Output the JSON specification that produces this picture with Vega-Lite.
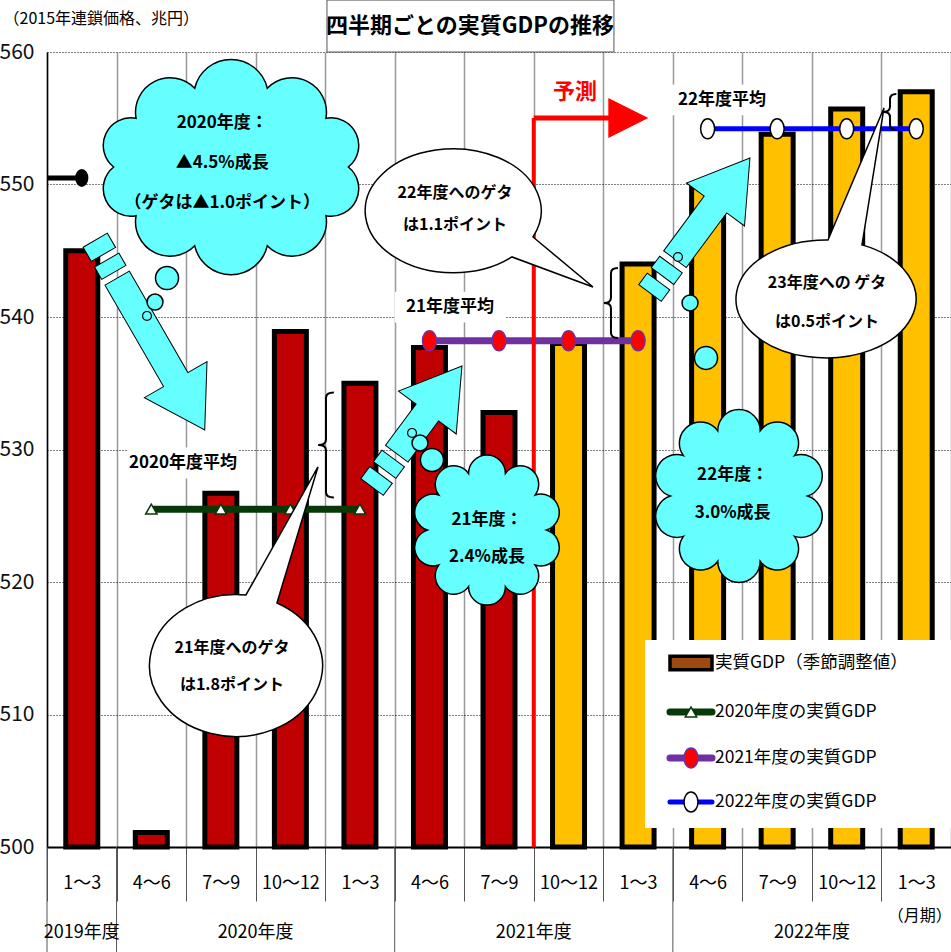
{
  "$schema": "https://vega.github.io/schema/vega-lite/v6.json",
  "width": 904,
  "height": 795,
  "autosize": {"type": "none"},
  "padding": {"left": 47, "top": 52, "right": 0, "bottom": 105},
  "background": "white",
  "config": {
    "view": {"stroke": null},
    "font": "Liberation Sans Narrow, Noto Sans CJK JP, sans-serif",
    "text": {"font": "Liberation Sans Narrow, Noto Sans CJK JP, sans-serif", "color": "#000"}
  },
  "datasets": {
    "gdp": [
      {"q": "FY19|1～3", "v": 545.0, "k": "実績"},
      {"q": "FY20|4～6", "v": 501.1, "k": "実績"},
      {"q": "FY20|7～9", "v": 526.7, "k": "実績"},
      {"q": "FY20|10～12", "v": 538.9, "k": "実績"},
      {"q": "FY20|1～3", "v": 535.0, "k": "実績"},
      {"q": "FY21|4～6", "v": 537.7, "k": "実績"},
      {"q": "FY21|7～9", "v": 532.8, "k": "実績"},
      {"q": "FY21|10～12", "v": 538.0, "k": "予測"},
      {"q": "FY21|1～3", "v": 544.0, "k": "予測"},
      {"q": "FY22|4～6", "v": 550.0, "k": "予測"},
      {"q": "FY22|7～9", "v": 553.8, "k": "予測"},
      {"q": "FY22|10～12", "v": 555.7, "k": "予測"},
      {"q": "FY22|1～3", "v": 557.0, "k": "予測"}
    ],
    "avg": [
      {"s": "FY19", "q": "FY19|1～3", "v": 550.5},
      {"s": "FY20", "q": "FY20|4～6", "v": 525.5},
      {"s": "FY20", "q": "FY20|7～9", "v": 525.5},
      {"s": "FY20", "q": "FY20|10～12", "v": 525.5},
      {"s": "FY20", "q": "FY20|1～3", "v": 525.5},
      {"s": "FY21", "q": "FY21|4～6", "v": 538.2},
      {"s": "FY21", "q": "FY21|7～9", "v": 538.2},
      {"s": "FY21", "q": "FY21|10～12", "v": 538.2},
      {"s": "FY21", "q": "FY21|1～3", "v": 538.2},
      {"s": "FY22", "q": "FY22|4～6", "v": 554.2},
      {"s": "FY22", "q": "FY22|7～9", "v": 554.2},
      {"s": "FY22", "q": "FY22|10～12", "v": 554.2},
      {"s": "FY22", "q": "FY22|1～3", "v": 554.2}
    ],
    "notes": [
      {"g": "cloud", "x": 2.52, "y": 554.64, "t": "2020年度："},
      {"g": "cloud", "x": 2.52, "y": 551.62, "t": "▲4.5%成長"},
      {"g": "cloud", "x": 2.52, "y": 548.6, "t": "（ゲタは▲1.0ポイント）"},
      {"g": "cloud", "x": 6.327, "y": 524.68, "t": "21年度："},
      {"g": "cloud", "x": 6.327, "y": 521.89, "t": "2.4%成長"},
      {"g": "cloud", "x": 9.86, "y": 528.08, "t": "22年度："},
      {"g": "cloud", "x": 9.86, "y": 525.21, "t": "3.0%成長"},
      {"g": "bubble", "x": 5.867, "y": 549.36, "t": "22年度へのゲタ"},
      {"g": "bubble", "x": 5.867, "y": 546.94, "t": "は1.1ポイント"},
      {"g": "bubble", "x": 2.66, "y": 515.02, "t": "21年度へのゲタ"},
      {"g": "bubble", "x": 2.66, "y": 512.23, "t": "は1.8ポイント"},
      {"g": "bubble", "x": 11.217, "y": 542.57, "t": "23年度への ゲタ"},
      {"g": "bubble", "x": 11.217, "y": 539.62, "t": "は0.5ポイント"},
      {"g": "avg", "x": 1.956, "y": 528.98, "t": "2020年度平均"},
      {"g": "avg", "x": 5.795, "y": 540.75, "t": "21年度平均"},
      {"g": "avg", "x": 9.707, "y": 556.38, "t": "22年度平均"},
      {"g": "yosoku", "x": 7.593, "y": 556.98, "t": "予測"},
      {"g": "unit", "x": 12.55, "y": 494.79, "t": "（月期）"},
      {"g": "title", "x": 6.083, "y": 561.96, "t": "四半期ごとの実質GDPの推移"}
    ],
    "shapes": [
      {"id": "c1", "x": 2.646, "y": 551.32},
      {"id": "c2", "x": 6.327, "y": 523.92},
      {"id": "c3", "x": 9.951, "y": 526.49},
      {"id": "a1", "x": 1.481, "y": 538.64},
      {"id": "a2", "x": 5.321, "y": 531.74},
      {"id": "a3", "x": 9.39, "y": 546.91},
      {"id": "bA", "x": 5.867, "y": 548.23},
      {"id": "bB", "x": 2.66, "y": 513.74},
      {"id": "bC", "x": 11.202, "y": 541.36},
      {"id": "k1", "x": 4.012, "y": 530.34},
      {"id": "k2", "x": 8.11, "y": 541.06},
      {"id": "k3", "x": 12.123, "y": 555.47}
    ],
    "puffs": [
      {"sz": "L", "x": 1.726, "y": 542.94},
      {"sz": "M", "x": 1.553, "y": 541.13},
      {"sz": "S", "x": 1.438, "y": 540.08},
      {"sz": "L", "x": 5.536, "y": 529.21},
      {"sz": "M", "x": 5.364, "y": 530.49},
      {"sz": "S", "x": 5.249, "y": 531.25},
      {"sz": "L", "x": 9.477, "y": 536.91},
      {"sz": "M", "x": 9.247, "y": 541.06},
      {"sz": "S", "x": 9.074, "y": 544.53}
    ],
    "boxes": [
      {"id": "title", "x": 4.026, "x2": 8.153, "y": 560, "y2": 563.92},
      {"id": "legend", "x": 8.6, "x2": 13, "y": 515.62, "y2": 501.43}
    ],
    "forecast": [
      {"x": 7, "x2": 8.36, "y": 500, "y2": 555.02}
    ],
    "legend": [
      {"s": "gdp", "t": "実質GDP（季節調整値）", "ly": 513.89},
      {"s": "fy20", "t": "2020年度の実質GDP", "ly": 510.19},
      {"s": "fy21", "t": "2021年度の実質GDP", "ly": 506.72},
      {"s": "fy22", "t": "2022年度の実質GDP", "ly": 503.4}
    ],
    "fy": [
      {"label": "2019年度", "start": 0, "mid": 0.5},
      {"label": "2020年度", "start": 1, "mid": 3},
      {"label": "2021年度", "start": 5, "mid": 7},
      {"label": "2022年度", "start": 9, "mid": 11}
    ]
  },
  "resolve": {"scale": {"x": "independent", "y": "independent"}},
  "layer": [
    {
      "data": {"name": "gdp"},
      "mark": {"type": "bar", "width": {"band": 0.46}, "stroke": "#000", "strokeWidth": 5, "strokeJoin": "miter"},
      "encoding": {
        "x": {
          "field": "q", "type": "nominal", "sort": null,
          "scale": {"domain": ["FY19|1～3", "FY20|4～6", "FY20|7～9", "FY20|10～12", "FY20|1～3", "FY21|4～6", "FY21|7～9", "FY21|10～12", "FY21|1～3", "FY22|4～6", "FY22|7～9", "FY22|10～12", "FY22|1～3"], "paddingInner": 0, "paddingOuter": 0},
          "axis": {"title": null, "labelExpr": "split(datum.value,'|')[1]", "labelAngle": 0, "labelFontSize": 18, "labelFont": "Liberation Sans Narrow, Noto Sans CJK JP, sans-serif", "labelColor": "#000", "labelBaseline": "middle", "labelPadding": -18, "tickBand": "extent", "ticks": true, "tickSize": 54, "tickColor": "#555", "tickWidth": 1, "grid": true, "gridColor": "#999", "gridWidth": 1.5, "domainColor": "#000", "domainWidth": 2}
        },
        "y": {
          "field": "v", "type": "quantitative",
          "scale": {"domain": [500, 560], "nice": false, "zero": false},
          "axis": {"values": [500, 510, 520, 530, 540, 550, 560], "title": "（2015年連鎖価格、兆円）", "titleAngle": 0, "titleAlign": "left", "titleBaseline": "middle", "titleX": -44, "titleY": -34, "titleFontSize": 16, "titleFontWeight": "normal", "titleFont": "Liberation Sans Narrow, Noto Sans CJK JP, sans-serif", "titleColor": "#000", "labelFontSize": 21, "labelFont": "Liberation Sans Narrow, Noto Sans CJK JP, sans-serif", "labelColor": "#111", "labelPadding": 13, "ticks": false, "domainColor": "#000", "domainWidth": 1.5, "grid": true, "gridColor": "#000", "gridDash": [1, 2], "gridWidth": 1}
        },
        "y2": {"datum": 500},
        "fill": {"field": "k", "type": "nominal", "scale": {"domain": ["実績", "予測"], "range": ["#C00000", "#FFC000"]}, "legend": null}
      }
    },
    {
      "data": {"name": "avg"},
      "transform": [{"filter": "datum.s == 'FY19'"}],
      "mark": {"type": "rule", "color": "#000", "strokeWidth": 5},
      "encoding": {
        "x": {"field": "q", "type": "nominal", "bandPosition": 0, "scale": {"domain": ["FY19|1～3", "FY20|4～6", "FY20|7～9", "FY20|10～12", "FY20|1～3", "FY21|4～6", "FY21|7～9", "FY21|10～12", "FY21|1～3", "FY22|4～6", "FY22|7～9", "FY22|10～12", "FY22|1～3"], "paddingInner": 0, "paddingOuter": 0}, "axis": null},
        "x2": {"field": "q", "bandPosition": 0.5},
        "y": {"field": "v", "type": "quantitative", "scale": {"domain": [500, 560], "nice": false, "zero": false}, "axis": null}
      }
    },
    {
      "data": {"name": "avg"},
      "transform": [{"filter": "datum.s == 'FY19'"}],
      "mark": {"type": "point", "shape": "M0,-1A0.7,1 0 1,1 0,1A0.7,1 0 1,1 0,-1Z", "filled": true, "fill": "#000", "stroke": "#000", "size": 256, "opacity": 1},
      "encoding": {
        "x": {"field": "q", "type": "nominal", "scale": {"domain": ["FY19|1～3", "FY20|4～6", "FY20|7～9", "FY20|10～12", "FY20|1～3", "FY21|4～6", "FY21|7～9", "FY21|10～12", "FY21|1～3", "FY22|4～6", "FY22|7～9", "FY22|10～12", "FY22|1～3"], "paddingInner": 0, "paddingOuter": 0}, "axis": null},
        "y": {"field": "v", "type": "quantitative", "scale": {"domain": [500, 560], "nice": false, "zero": false}, "axis": null}
      }
    },
    {
      "data": {"name": "avg"},
      "transform": [{"filter": "datum.s == 'FY20'"}],
      "mark": {"type": "line", "color": "#073807", "strokeWidth": 7},
      "encoding": {
        "x": {"field": "q", "type": "nominal", "scale": {"domain": ["FY19|1～3", "FY20|4～6", "FY20|7～9", "FY20|10～12", "FY20|1～3", "FY21|4～6", "FY21|7～9", "FY21|10～12", "FY21|1～3", "FY22|4～6", "FY22|7～9", "FY22|10～12", "FY22|1～3"], "paddingInner": 0, "paddingOuter": 0}, "axis": null},
        "y": {"field": "v", "type": "quantitative", "scale": {"domain": [500, 560], "nice": false, "zero": false}, "axis": null}
      }
    },
    {
      "data": {"name": "avg"},
      "transform": [{"filter": "datum.s == 'FY20'"}],
      "mark": {"type": "point", "shape": "triangle-up", "filled": true, "fill": "#fff", "stroke": "#073807", "strokeWidth": 1.5, "size": 130, "opacity": 1},
      "encoding": {
        "x": {"field": "q", "type": "nominal", "scale": {"domain": ["FY19|1～3", "FY20|4～6", "FY20|7～9", "FY20|10～12", "FY20|1～3", "FY21|4～6", "FY21|7～9", "FY21|10～12", "FY21|1～3", "FY22|4～6", "FY22|7～9", "FY22|10～12", "FY22|1～3"], "paddingInner": 0, "paddingOuter": 0}, "axis": null},
        "y": {"field": "v", "type": "quantitative", "scale": {"domain": [500, 560], "nice": false, "zero": false}, "axis": null}
      }
    },
    {
      "data": {"name": "avg"},
      "transform": [{"filter": "datum.s == 'FY21'"}],
      "mark": {"type": "line", "color": "#7030A0", "strokeWidth": 7},
      "encoding": {
        "x": {"field": "q", "type": "nominal", "scale": {"domain": ["FY19|1～3", "FY20|4～6", "FY20|7～9", "FY20|10～12", "FY20|1～3", "FY21|4～6", "FY21|7～9", "FY21|10～12", "FY21|1～3", "FY22|4～6", "FY22|7～9", "FY22|10～12", "FY22|1～3"], "paddingInner": 0, "paddingOuter": 0}, "axis": null},
        "y": {"field": "v", "type": "quantitative", "scale": {"domain": [500, 560], "nice": false, "zero": false}, "axis": null}
      }
    },
    {
      "data": {"name": "avg"},
      "transform": [{"filter": "datum.s == 'FY21'"}],
      "mark": {"type": "point", "shape": "M0,-1A0.7,1 0 1,1 0,1A0.7,1 0 1,1 0,-1Z", "filled": true, "fill": "#FF0000", "stroke": "#7030A0", "strokeWidth": 1.5, "size": 400, "opacity": 1},
      "encoding": {
        "x": {"field": "q", "type": "nominal", "scale": {"domain": ["FY19|1～3", "FY20|4～6", "FY20|7～9", "FY20|10～12", "FY20|1～3", "FY21|4～6", "FY21|7～9", "FY21|10～12", "FY21|1～3", "FY22|4～6", "FY22|7～9", "FY22|10～12", "FY22|1～3"], "paddingInner": 0, "paddingOuter": 0}, "axis": null},
        "y": {"field": "v", "type": "quantitative", "scale": {"domain": [500, 560], "nice": false, "zero": false}, "axis": null}
      }
    },
    {
      "data": {"name": "avg"},
      "transform": [{"filter": "datum.s == 'FY22'"}],
      "mark": {"type": "line", "color": "#0000FF", "strokeWidth": 5},
      "encoding": {
        "x": {"field": "q", "type": "nominal", "scale": {"domain": ["FY19|1～3", "FY20|4～6", "FY20|7～9", "FY20|10～12", "FY20|1～3", "FY21|4～6", "FY21|7～9", "FY21|10～12", "FY21|1～3", "FY22|4～6", "FY22|7～9", "FY22|10～12", "FY22|1～3"], "paddingInner": 0, "paddingOuter": 0}, "axis": null},
        "y": {"field": "v", "type": "quantitative", "scale": {"domain": [500, 560], "nice": false, "zero": false}, "axis": null}
      }
    },
    {
      "data": {"name": "avg"},
      "transform": [{"filter": "datum.s == 'FY22'"}],
      "mark": {"type": "point", "shape": "M0,-1A0.7,1 0 1,1 0,1A0.7,1 0 1,1 0,-1Z", "filled": true, "fill": "#fff", "stroke": "#000", "strokeWidth": 1.5, "size": 400, "opacity": 1},
      "encoding": {
        "x": {"field": "q", "type": "nominal", "scale": {"domain": ["FY19|1～3", "FY20|4～6", "FY20|7～9", "FY20|10～12", "FY20|1～3", "FY21|4～6", "FY21|7～9", "FY21|10～12", "FY21|1～3", "FY22|4～6", "FY22|7～9", "FY22|10～12", "FY22|1～3"], "paddingInner": 0, "paddingOuter": 0}, "axis": null},
        "y": {"field": "v", "type": "quantitative", "scale": {"domain": [500, 560], "nice": false, "zero": false}, "axis": null}
      }
    },
    {
      "data": {"name": "forecast"},
      "mark": {"type": "rule", "color": "#FF0000", "strokeWidth": 4},
      "encoding": {
        "x": {"field": "x", "type": "quantitative", "scale": {"domain": [0, 13], "nice": false, "zero": false}, "axis": null},
        "y": {"field": "y", "type": "quantitative", "scale": {"domain": [500, 560], "nice": false, "zero": false}, "axis": null},
        "y2": {"field": "y2"}
      }
    },
    {
      "data": {"name": "forecast"},
      "mark": {"type": "rule", "color": "#FF0000", "strokeWidth": 5},
      "encoding": {
        "x": {"field": "x", "type": "quantitative", "scale": {"domain": [0, 13], "nice": false, "zero": false}, "axis": null},
        "x2": {"field": "x2"},
        "y": {"field": "y2", "type": "quantitative", "scale": {"domain": [500, 560], "nice": false, "zero": false}, "axis": null}
      }
    },
    {
      "data": {"name": "forecast"},
      "mark": {"type": "point", "shape": "M-1,-1L1,0L-1,1Z", "filled": true, "fill": "#FF0000", "strokeWidth": 0, "size": 1600, "opacity": 1},
      "encoding": {
        "x": {"field": "x2", "type": "quantitative", "scale": {"domain": [0, 13], "nice": false, "zero": false}, "axis": null},
        "y": {"field": "y2", "type": "quantitative", "scale": {"domain": [500, 560], "nice": false, "zero": false}, "axis": null}
      }
    },
    {
      "data": {"name": "shapes"},
      "transform": [{"filter": "datum.id == 'a1'"}],
      "mark": {"type": "point", "shape": "M-0.6,-0.128L0.47,-0.128L0.47,-0.33L1,0L0.47,0.33L0.47,0.128L-0.6,0.128Z M-0.79,-0.128L-0.66,-0.128L-0.66,0.128L-0.79,0.128Z M-1,-0.128L-0.85,-0.128L-0.85,0.128L-1,0.128Z", "angle": 60, "filled": true, "fill": "#66FFFF", "stroke": "#000", "strokeWidth": 1, "size": 47961, "opacity": 1},
      "encoding": {
        "x": {"field": "x", "type": "quantitative", "scale": {"domain": [0, 13], "nice": false, "zero": false}, "axis": null},
        "y": {"field": "y", "type": "quantitative", "scale": {"domain": [500, 560], "nice": false, "zero": false}, "axis": null}
      }
    },
    {
      "data": {"name": "shapes"},
      "transform": [{"filter": "datum.id == 'a2'"}],
      "mark": {"type": "point", "shape": "M-0.45,-0.186L0.23,-0.186L0.23,-0.477L1,0L0.23,0.477L0.23,0.186L-0.45,0.186Z M-0.72,-0.186L-0.53,-0.186L-0.53,0.186L-0.72,0.186Z M-1,-0.186L-0.8,-0.186L-0.8,0.186L-1,0.186Z", "angle": 306.6, "filled": true, "fill": "#66FFFF", "stroke": "#000", "strokeWidth": 1, "size": 22741, "opacity": 1},
      "encoding": {
        "x": {"field": "x", "type": "quantitative", "scale": {"domain": [0, 13], "nice": false, "zero": false}, "axis": null},
        "y": {"field": "y", "type": "quantitative", "scale": {"domain": [500, 560], "nice": false, "zero": false}, "axis": null}
      }
    },
    {
      "data": {"name": "shapes"},
      "transform": [{"filter": "datum.id == 'a3'"}],
      "mark": {"type": "point", "shape": "M-0.5,-0.167L0.31,-0.167L0.31,-0.43L1,0L0.31,0.43L0.31,0.167L-0.5,0.167Z M-0.75,-0.167L-0.58,-0.167L-0.58,0.167L-0.75,0.167Z M-1,-0.167L-0.83,-0.167L-0.83,0.167L-1,0.167Z", "angle": 306.5, "filled": true, "fill": "#66FFFF", "stroke": "#000", "strokeWidth": 1, "size": 28224, "opacity": 1},
      "encoding": {
        "x": {"field": "x", "type": "quantitative", "scale": {"domain": [0, 13], "nice": false, "zero": false}, "axis": null},
        "y": {"field": "y", "type": "quantitative", "scale": {"domain": [500, 560], "nice": false, "zero": false}, "axis": null}
      }
    },
    {
      "data": {"name": "shapes"},
      "transform": [{"filter": "datum.id == 'c1'"}],
      "mark": {"type": "point", "shape": "M0.85,0A0.2,0.2 0 0 1 0.688,0.353A0.25,0.25 0 0 1 0.263,0.571A0.27,0.27 0 0 1 -0.263,0.571A0.25,0.25 0 0 1 -0.688,0.353A0.2,0.2 0 0 1 -0.85,0A0.2,0.2 0 0 1 -0.688,-0.353A0.25,0.25 0 0 1 -0.263,-0.571A0.27,0.27 0 0 1 0.263,-0.571A0.25,0.25 0 0 1 0.688,-0.353A0.2,0.2 0 0 1 0.85,0Z", "filled": true, "fill": "#66FFFF", "stroke": "#000", "strokeWidth": 1.5, "size": 76176, "opacity": 1},
      "encoding": {
        "x": {"field": "x", "type": "quantitative", "scale": {"domain": [0, 13], "nice": false, "zero": false}, "axis": null},
        "y": {"field": "y", "type": "quantitative", "scale": {"domain": [500, 560], "nice": false, "zero": false}, "axis": null}
      }
    },
    {
      "data": {"name": "shapes"},
      "transform": [{"filter": "datum.id == 'c2'"}],
      "mark": {"type": "point", "shape": "M0.75,0A0.2,0.2 0 0 1 0.607,0.441A0.2,0.2 0 0 1 0.232,0.713A0.2,0.2 0 0 1 -0.232,0.713A0.2,0.2 0 0 1 -0.607,0.441A0.2,0.2 0 0 1 -0.75,0A0.2,0.2 0 0 1 -0.607,-0.441A0.2,0.2 0 0 1 -0.232,-0.713A0.2,0.2 0 0 1 0.232,-0.713A0.2,0.2 0 0 1 0.607,-0.441A0.2,0.2 0 0 1 0.75,0Z", "filled": true, "fill": "#66FFFF", "stroke": "#000", "strokeWidth": 1.5, "size": 25217, "opacity": 1},
      "encoding": {
        "x": {"field": "x", "type": "quantitative", "scale": {"domain": [0, 13], "nice": false, "zero": false}, "axis": null},
        "y": {"field": "y", "type": "quantitative", "scale": {"domain": [500, 560], "nice": false, "zero": false}, "axis": null}
      }
    },
    {
      "data": {"name": "shapes"},
      "transform": [{"filter": "datum.id == 'c3'"}],
      "mark": {"type": "point", "shape": "M0.75,0A0.2,0.2 0 0 1 0.607,0.441A0.2,0.2 0 0 1 0.232,0.713A0.2,0.2 0 0 1 -0.232,0.713A0.2,0.2 0 0 1 -0.607,0.441A0.2,0.2 0 0 1 -0.75,0A0.2,0.2 0 0 1 -0.607,-0.441A0.2,0.2 0 0 1 -0.232,-0.713A0.2,0.2 0 0 1 0.232,-0.713A0.2,0.2 0 0 1 0.607,-0.441A0.2,0.2 0 0 1 0.75,0Z", "filled": true, "fill": "#66FFFF", "stroke": "#000", "strokeWidth": 1.5, "size": 33489, "opacity": 1},
      "encoding": {
        "x": {"field": "x", "type": "quantitative", "scale": {"domain": [0, 13], "nice": false, "zero": false}, "axis": null},
        "y": {"field": "y", "type": "quantitative", "scale": {"domain": [500, 560], "nice": false, "zero": false}, "axis": null}
      }
    },
    {
      "data": {"name": "puffs"},
      "transform": [{"filter": "datum.sz == 'L'"}],
      "mark": {"type": "point", "shape": "circle", "filled": true, "fill": "#66FFFF", "stroke": "#000", "strokeWidth": 1.5, "size": 531, "opacity": 1},
      "encoding": {
        "x": {"field": "x", "type": "quantitative", "scale": {"domain": [0, 13], "nice": false, "zero": false}, "axis": null},
        "y": {"field": "y", "type": "quantitative", "scale": {"domain": [500, 560], "nice": false, "zero": false}, "axis": null}
      }
    },
    {
      "data": {"name": "puffs"},
      "transform": [{"filter": "datum.sz == 'M'"}],
      "mark": {"type": "point", "shape": "circle", "filled": true, "fill": "#66FFFF", "stroke": "#000", "strokeWidth": 1.5, "size": 254, "opacity": 1},
      "encoding": {
        "x": {"field": "x", "type": "quantitative", "scale": {"domain": [0, 13], "nice": false, "zero": false}, "axis": null},
        "y": {"field": "y", "type": "quantitative", "scale": {"domain": [500, 560], "nice": false, "zero": false}, "axis": null}
      }
    },
    {
      "data": {"name": "puffs"},
      "transform": [{"filter": "datum.sz == 'S'"}],
      "mark": {"type": "point", "shape": "circle", "filled": true, "fill": "#66FFFF", "stroke": "#000", "strokeWidth": 1.2, "size": 79, "opacity": 1},
      "encoding": {
        "x": {"field": "x", "type": "quantitative", "scale": {"domain": [0, 13], "nice": false, "zero": false}, "axis": null},
        "y": {"field": "y", "type": "quantitative", "scale": {"domain": [500, 560], "nice": false, "zero": false}, "axis": null}
      }
    },
    {
      "data": {"name": "shapes"},
      "transform": [{"filter": "datum.id == 'bA'"}],
      "mark": {"type": "point", "shape": "M0.78,0.29A0.88,0.62 0 1 0 0.57,0.49L1.38,0.79Z", "filled": true, "fill": "#fff", "stroke": "#000", "strokeWidth": 1.5, "size": 40000, "opacity": 1},
      "encoding": {
        "x": {"field": "x", "type": "quantitative", "scale": {"domain": [0, 13], "nice": false, "zero": false}, "axis": null},
        "y": {"field": "y", "type": "quantitative", "scale": {"domain": [500, 560], "nice": false, "zero": false}, "axis": null}
      }
    },
    {
      "data": {"name": "shapes"},
      "transform": [{"filter": "datum.id == 'bB'"}],
      "mark": {"type": "point", "shape": "M0.14,-0.7L0.86,-1.98L0.45,-0.62A0.865,0.71 0 1 1 0.14,-0.7Z", "filled": true, "fill": "#fff", "stroke": "#000", "strokeWidth": 1.5, "size": 40000, "opacity": 1},
      "encoding": {
        "x": {"field": "x", "type": "quantitative", "scale": {"domain": [0, 13], "nice": false, "zero": false}, "axis": null},
        "y": {"field": "y", "type": "quantitative", "scale": {"domain": [500, 560], "nice": false, "zero": false}, "axis": null}
      }
    },
    {
      "data": {"name": "shapes"},
      "transform": [{"filter": "datum.id == 'bC'"}],
      "mark": {"type": "point", "shape": "M0.02,-0.59L0.58,-1.91L0.36,-0.541A0.9,0.59 0 1 1 0.02,-0.59Z", "filled": true, "fill": "#fff", "stroke": "#000", "strokeWidth": 1.5, "size": 40000, "opacity": 1},
      "encoding": {
        "x": {"field": "x", "type": "quantitative", "scale": {"domain": [0, 13], "nice": false, "zero": false}, "axis": null},
        "y": {"field": "y", "type": "quantitative", "scale": {"domain": [500, 560], "nice": false, "zero": false}, "axis": null}
      }
    },
    {
      "data": {"name": "shapes"},
      "transform": [{"filter": "datum.id == 'k1'"}],
      "mark": {"type": "point", "shape": "M0.15,-1Q0,-1 0,-0.9L0,-0.1Q0,0 -0.15,0Q0,0 0,0.1L0,0.9Q0,1 0.15,1", "filled": false, "stroke": "#000", "strokeWidth": 2, "size": 11025, "opacity": 1},
      "encoding": {
        "x": {"field": "x", "type": "quantitative", "scale": {"domain": [0, 13], "nice": false, "zero": false}, "axis": null},
        "y": {"field": "y", "type": "quantitative", "scale": {"domain": [500, 560], "nice": false, "zero": false}, "axis": null}
      }
    },
    {
      "data": {"name": "shapes"},
      "transform": [{"filter": "datum.id == 'k2'"}],
      "mark": {"type": "point", "shape": "M0.2,-1Q0,-1 0,-0.85L0,-0.15Q0,0 -0.2,0Q0,0 0,0.15L0,0.85Q0,1 0.2,1", "filled": false, "stroke": "#000", "strokeWidth": 2, "size": 4900, "opacity": 1},
      "encoding": {
        "x": {"field": "x", "type": "quantitative", "scale": {"domain": [0, 13], "nice": false, "zero": false}, "axis": null},
        "y": {"field": "y", "type": "quantitative", "scale": {"domain": [500, 560], "nice": false, "zero": false}, "axis": null}
      }
    },
    {
      "data": {"name": "shapes"},
      "transform": [{"filter": "datum.id == 'k3'"}],
      "mark": {"type": "point", "shape": "M0.35,-1Q0,-1 0,-0.7L0,-0.3Q0,0 -0.35,0Q0,0 0,0.3L0,0.7Q0,1 0.35,1", "filled": false, "stroke": "#000", "strokeWidth": 2, "size": 1296, "opacity": 1},
      "encoding": {
        "x": {"field": "x", "type": "quantitative", "scale": {"domain": [0, 13], "nice": false, "zero": false}, "axis": null},
        "y": {"field": "y", "type": "quantitative", "scale": {"domain": [500, 560], "nice": false, "zero": false}, "axis": null}
      }
    },
    {
      "data": {"name": "boxes"},
      "transform": [{"filter": "datum.id == 'legend'"}],
      "mark": {"type": "rect", "fill": "#fff"},
      "encoding": {
        "x": {"field": "x", "type": "quantitative", "scale": {"domain": [0, 13], "nice": false, "zero": false}, "axis": null},
        "x2": {"field": "x2"},
        "y": {"field": "y", "type": "quantitative", "scale": {"domain": [500, 560], "nice": false, "zero": false}, "axis": null},
        "y2": {"field": "y2"}
      }
    },
    {
      "data": {"name": "boxes"},
      "transform": [{"filter": "datum.id == 'title'"}],
      "mark": {"type": "rect", "fill": "#fff", "stroke": "#555", "strokeWidth": 1},
      "encoding": {
        "x": {"field": "x", "type": "quantitative", "scale": {"domain": [0, 13], "nice": false, "zero": false}, "axis": null},
        "x2": {"field": "x2"},
        "y": {"field": "y", "type": "quantitative", "scale": {"domain": [500, 560], "nice": false, "zero": false}, "axis": null},
        "y2": {"field": "y2"}
      }
    },
    {
      "data": {"name": "notes"},
      "transform": [{"filter": "datum.g == 'avg'"}],
      "mark": {"type": "point", "shape": "M-1,-0.28L1,-0.28L1,0.28L-1,0.28Z", "filled": true, "fill": "#fff", "strokeWidth": 0, "size": 12100, "opacity": 1},
      "encoding": {
        "x": {"field": "x", "type": "quantitative", "scale": {"domain": [0, 13], "nice": false, "zero": false}, "axis": null},
        "y": {"field": "y", "type": "quantitative", "scale": {"domain": [500, 560], "nice": false, "zero": false}, "axis": null}
      }
    },
    {
      "data": {"name": "notes"},
      "transform": [{"filter": "datum.g == 'cloud'"}],
      "mark": {"type": "text", "fontSize": 17, "fontWeight": "bold", "align": "center", "baseline": "middle"},
      "encoding": {
        "x": {"field": "x", "type": "quantitative", "scale": {"domain": [0, 13], "nice": false, "zero": false}, "axis": null},
        "y": {"field": "y", "type": "quantitative", "scale": {"domain": [500, 560], "nice": false, "zero": false}, "axis": null},
        "text": {"field": "t"}
      }
    },
    {
      "data": {"name": "notes"},
      "transform": [{"filter": "datum.g == 'bubble'"}],
      "mark": {"type": "text", "fontSize": 16, "fontWeight": "bold", "align": "center", "baseline": "middle"},
      "encoding": {
        "x": {"field": "x", "type": "quantitative", "scale": {"domain": [0, 13], "nice": false, "zero": false}, "axis": null},
        "y": {"field": "y", "type": "quantitative", "scale": {"domain": [500, 560], "nice": false, "zero": false}, "axis": null},
        "text": {"field": "t"}
      }
    },
    {
      "data": {"name": "notes"},
      "transform": [{"filter": "datum.g == 'avg'"}],
      "mark": {"type": "text", "fontSize": 17, "fontWeight": "bold", "align": "center", "baseline": "middle"},
      "encoding": {
        "x": {"field": "x", "type": "quantitative", "scale": {"domain": [0, 13], "nice": false, "zero": false}, "axis": null},
        "y": {"field": "y", "type": "quantitative", "scale": {"domain": [500, 560], "nice": false, "zero": false}, "axis": null},
        "text": {"field": "t"}
      }
    },
    {
      "data": {"name": "notes"},
      "transform": [{"filter": "datum.g == 'yosoku'"}],
      "mark": {"type": "text", "fontSize": 22, "fontWeight": "bold", "align": "center", "baseline": "middle", "color": "#FF0000"},
      "encoding": {
        "x": {"field": "x", "type": "quantitative", "scale": {"domain": [0, 13], "nice": false, "zero": false}, "axis": null},
        "y": {"field": "y", "type": "quantitative", "scale": {"domain": [500, 560], "nice": false, "zero": false}, "axis": null},
        "text": {"field": "t"}
      }
    },
    {
      "data": {"name": "notes"},
      "transform": [{"filter": "datum.g == 'title'"}],
      "mark": {"type": "text", "fontSize": 22, "fontWeight": "bold", "align": "center", "baseline": "middle"},
      "encoding": {
        "x": {"field": "x", "type": "quantitative", "scale": {"domain": [0, 13], "nice": false, "zero": false}, "axis": null},
        "y": {"field": "y", "type": "quantitative", "scale": {"domain": [500, 560], "nice": false, "zero": false}, "axis": null},
        "text": {"field": "t"}
      }
    },
    {
      "data": {"name": "notes"},
      "transform": [{"filter": "datum.g == 'unit'"}],
      "mark": {"type": "text", "fontSize": 16, "align": "center", "baseline": "middle"},
      "encoding": {
        "x": {"field": "x", "type": "quantitative", "scale": {"domain": [0, 13], "nice": false, "zero": false}, "axis": null},
        "y": {"field": "y", "type": "quantitative", "scale": {"domain": [500, 560], "nice": false, "zero": false}, "axis": null},
        "text": {"field": "t"}
      }
    },
    {
      "data": {"name": "legend"},
      "transform": [{"filter": "datum.s == 'gdp'"}],
      "mark": {"type": "point", "shape": "M-1,-0.32L1,-0.32L1,0.32L-1,0.32Z", "filled": true, "fill": "#9C4A10", "stroke": "#000", "strokeWidth": 3.5, "size": 1764, "opacity": 1},
      "encoding": {
        "x": {"datum": 9.261, "type": "quantitative", "scale": {"domain": [0, 13], "nice": false, "zero": false}, "axis": null},
        "y": {"field": "ly", "type": "quantitative", "scale": {"domain": [500, 560], "nice": false, "zero": false}, "axis": null}
      }
    },
    {
      "data": {"name": "legend"},
      "transform": [{"filter": "datum.s == 'fy20'"}],
      "mark": {"type": "point", "shape": "M-1,0L1,0", "filled": false, "stroke": "#073807", "strokeWidth": 7, "strokeCap": "round", "size": 1764, "opacity": 1},
      "encoding": {
        "x": {"datum": 9.261, "type": "quantitative", "scale": {"domain": [0, 13], "nice": false, "zero": false}, "axis": null},
        "y": {"field": "ly", "type": "quantitative", "scale": {"domain": [500, 560], "nice": false, "zero": false}, "axis": null}
      }
    },
    {
      "data": {"name": "legend"},
      "transform": [{"filter": "datum.s == 'fy20'"}],
      "mark": {"type": "point", "shape": "triangle-up", "filled": true, "fill": "#fff", "stroke": "#073807", "strokeWidth": 1.5, "size": 130, "opacity": 1},
      "encoding": {
        "x": {"datum": 9.261, "type": "quantitative", "scale": {"domain": [0, 13], "nice": false, "zero": false}, "axis": null},
        "y": {"field": "ly", "type": "quantitative", "scale": {"domain": [500, 560], "nice": false, "zero": false}, "axis": null}
      }
    },
    {
      "data": {"name": "legend"},
      "transform": [{"filter": "datum.s == 'fy21'"}],
      "mark": {"type": "point", "shape": "M-1,0L1,0", "filled": false, "stroke": "#7030A0", "strokeWidth": 7, "strokeCap": "round", "size": 1764, "opacity": 1},
      "encoding": {
        "x": {"datum": 9.261, "type": "quantitative", "scale": {"domain": [0, 13], "nice": false, "zero": false}, "axis": null},
        "y": {"field": "ly", "type": "quantitative", "scale": {"domain": [500, 560], "nice": false, "zero": false}, "axis": null}
      }
    },
    {
      "data": {"name": "legend"},
      "transform": [{"filter": "datum.s == 'fy21'"}],
      "mark": {"type": "point", "shape": "M0,-1A0.7,1 0 1,1 0,1A0.7,1 0 1,1 0,-1Z", "filled": true, "fill": "#FF0000", "stroke": "#7030A0", "strokeWidth": 1.5, "size": 400, "opacity": 1},
      "encoding": {
        "x": {"datum": 9.261, "type": "quantitative", "scale": {"domain": [0, 13], "nice": false, "zero": false}, "axis": null},
        "y": {"field": "ly", "type": "quantitative", "scale": {"domain": [500, 560], "nice": false, "zero": false}, "axis": null}
      }
    },
    {
      "data": {"name": "legend"},
      "transform": [{"filter": "datum.s == 'fy22'"}],
      "mark": {"type": "point", "shape": "M-1,0L1,0", "filled": false, "stroke": "#0000FF", "strokeWidth": 5, "strokeCap": "round", "size": 1764, "opacity": 1},
      "encoding": {
        "x": {"datum": 9.261, "type": "quantitative", "scale": {"domain": [0, 13], "nice": false, "zero": false}, "axis": null},
        "y": {"field": "ly", "type": "quantitative", "scale": {"domain": [500, 560], "nice": false, "zero": false}, "axis": null}
      }
    },
    {
      "data": {"name": "legend"},
      "transform": [{"filter": "datum.s == 'fy22'"}],
      "mark": {"type": "point", "shape": "M0,-1A0.7,1 0 1,1 0,1A0.7,1 0 1,1 0,-1Z", "filled": true, "fill": "#fff", "stroke": "#000", "strokeWidth": 1.5, "size": 400, "opacity": 1},
      "encoding": {
        "x": {"datum": 9.261, "type": "quantitative", "scale": {"domain": [0, 13], "nice": false, "zero": false}, "axis": null},
        "y": {"field": "ly", "type": "quantitative", "scale": {"domain": [500, 560], "nice": false, "zero": false}, "axis": null}
      }
    },
    {
      "data": {"name": "legend"},
      "mark": {"type": "text", "fontSize": 17.5, "align": "left", "baseline": "middle"},
      "encoding": {
        "x": {"datum": 9.606, "type": "quantitative", "scale": {"domain": [0, 13], "nice": false, "zero": false}, "axis": null},
        "y": {"field": "ly", "type": "quantitative", "scale": {"domain": [500, 560], "nice": false, "zero": false}, "axis": null},
        "text": {"field": "t"}
      }
    },
    {
      "data": {"name": "fy"},
      "mark": {"type": "rule", "color": "#555", "strokeWidth": 1},
      "encoding": {
        "x": {"field": "start", "type": "quantitative", "scale": {"domain": [0, 13], "nice": false, "zero": false}, "axis": null},
        "y": {"datum": 500, "type": "quantitative", "scale": {"domain": [500, 560], "nice": false, "zero": false}, "axis": null},
        "y2": {"datum": 492.08}
      }
    },
    {
      "data": {"name": "fy"},
      "mark": {"type": "text", "fontSize": 18, "align": "center", "baseline": "middle"},
      "encoding": {
        "x": {"field": "mid", "type": "quantitative", "scale": {"domain": [0, 13], "nice": false, "zero": false}, "axis": null},
        "y": {"datum": 493.5, "type": "quantitative", "scale": {"domain": [500, 560], "nice": false, "zero": false}, "axis": null},
        "text": {"field": "label"}
      }
    }
  ]
}
